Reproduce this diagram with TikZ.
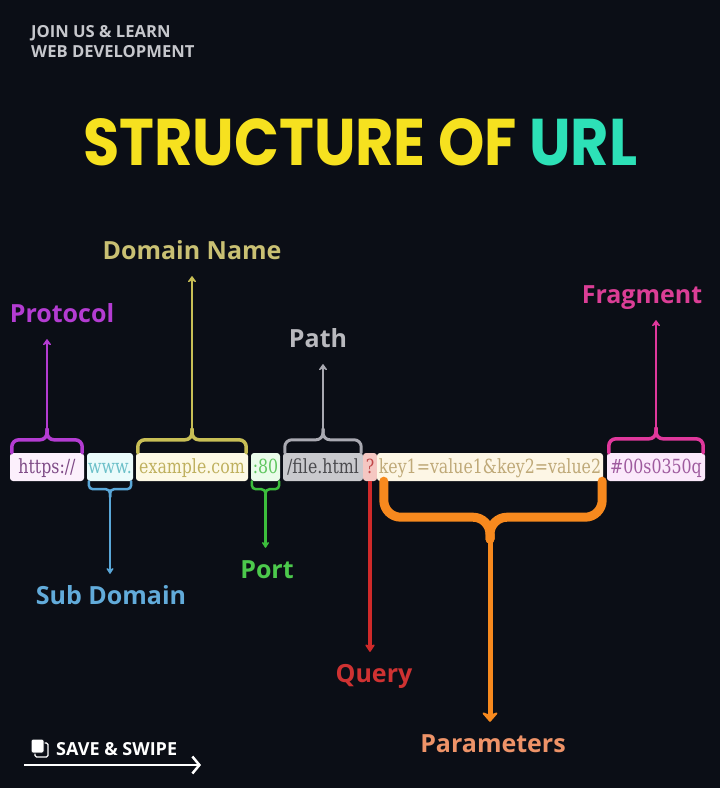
\documentclass[tikz,border=0pt]{standalone}
\usepackage{fontspec}
\setmainfont{DejaVu Serif}[FakeStretch=0.81]
\newfontfamily\labelfont{Open Sans}
\newfontfamily\titlefont{Poppins}
\usetikzlibrary{arrows.meta}

\definecolor{bgdark}{HTML}{0B0E16}
\definecolor{headgray}{HTML}{C6C7CC}
\definecolor{titleyellow}{HTML}{F6E11F}
\definecolor{titleteal}{HTML}{2DE1B7}
\definecolor{protoc}{HTML}{B43CD2}
\definecolor{domainc}{HTML}{C8BE55}
\definecolor{domainlbl}{HTML}{C9C073}
\definecolor{pathc}{HTML}{A9A9B1}
\definecolor{pathlbl}{HTML}{B9B9BE}
\definecolor{fragc}{HTML}{E0389C}
\definecolor{fraglbl}{HTML}{DB3E96}
\definecolor{subc}{HTML}{5AA7D8}
\definecolor{sublbl}{HTML}{62ABDA}
\definecolor{portc}{HTML}{3CBE3C}
\definecolor{portlbl}{HTML}{4CC94C}
\definecolor{queryc}{HTML}{D02A2A}
\definecolor{querylbl}{HTML}{CF3232}
\definecolor{paramc}{HTML}{F7891E}
\definecolor{paramlbl}{HTML}{EE9368}
% boxes of the url
\definecolor{protobox}{HTML}{FCF0FC}\definecolor{prototxt}{HTML}{7E4A86}
\definecolor{subbox}{HTML}{EAFBFB}\definecolor{subtxt}{HTML}{6CC0C9}
\definecolor{domainbox}{HTML}{FDF9E5}\definecolor{domaintxt}{HTML}{BFB05E}
\definecolor{portbox}{HTML}{EAFCEA}\definecolor{porttxt}{HTML}{5FC65F}
\definecolor{pathbox}{HTML}{C9C9CD}\definecolor{pathtxt}{HTML}{4A4A4E}
\definecolor{querybox}{HTML}{F5C7C2}\definecolor{querytxt}{HTML}{C04848}
\definecolor{parambox}{HTML}{FDF6E5}\definecolor{paramtxt}{HTML}{BFA978}
\definecolor{fragbox}{HTML}{FBE9FB}\definecolor{fragtxt}{HTML}{9E5A9E}

\tikzset{
  urlbox/.style={rounded corners=3pt, inner xsep=0pt, inner ysep=0pt,
    minimum height=28pt, text height=15pt, text depth=3pt,
    font=\fontsize{19.5}{19.5}\selectfont},
  lbl/.style={font=\labelfont\bfseries\fontsize{25}{25}\selectfont,
    inner sep=0pt, text height=18pt, text depth=6pt, anchor=base},
  bracetop/.style={line width=3.5pt, rounded corners=7pt, line cap=round},
  bracebot/.style={line width=2.5pt, rounded corners=4pt, line cap=round},
  braceparam/.style={line width=9pt, rounded corners=17pt, line cap=round},
  stemtop/.style={line width=2.8pt, shorten >=11pt,
    -{Stealth[length=7pt, width=10pt, round]}},
  stembot/.style={line width=2.5pt, shorten >=12pt,
    -{Stealth[length=7pt, width=9pt, round]}},
}

\begin{document}
\begin{tikzpicture}[x=1pt, y=-1pt]
  \useasboundingbox (0,0) rectangle (720,788);
  \fill[bgdark] (0,0) rectangle (720,788);

  % Marking header
  \node[anchor=base west, inner sep=0pt, text=headgray,
    font=\labelfont\bfseries\fontsize{16.6}{16.6}\selectfont] (head1) at (31,37) {JOIN US \& LEARN};
  \node[anchor=base west, inner sep=0pt, text=headgray,
    font=\labelfont\bfseries\fontsize{16.6}{16.6}\selectfont] (head2) at (31,57) {WEB DEVELOPMENT};

  % Marking title
  \node[anchor=base west, inner sep=0pt,
    font=\titlefont\bfseries\fontsize{66}{66}\selectfont] (title) at (83,165)
    {\scalebox{0.893}[1]{\textcolor{titleyellow}{STRUCTURE OF }\textcolor{titleteal}{URL}}};

  % Drawing boxes of the url
  \node[urlbox, fill=protobox, text=prototxt, minimum width=74pt] (uproto) at (47,467) {https://};
  \node[urlbox, fill=subbox, text=subtxt, minimum width=46pt] (usub) at (110,467) {www.};
  \node[urlbox, fill=domainbox, text=domaintxt, minimum width=112pt] (udomain) at (192,467) {example.com};
  \node[urlbox, fill=portbox, text=porttxt, minimum width=29pt] (uport) at (265.5,467) {:80};
  \node[urlbox, fill=pathbox, text=pathtxt, minimum width=80pt] (upath) at (323,467) {/file.html};
  \node[urlbox, fill=querybox, text=querytxt, minimum width=14pt] (uquery) at (370,467) {?};
  \node[urlbox, fill=parambox, text=paramtxt, minimum width=226pt] (uparam) at (490,467) {key1=value1\&key2=value2};
  \node[urlbox, fill=fragbox, text=fragtxt, minimum width=98pt] (ufrag) at (656,467) {\#00s0350q};

  % Marking labels
  \node[lbl, text=protoc] (lproto) at (62,322) {Protocol};
  \node[lbl, text=domainlbl] (ldomain) at (192,259) {Domain Name};
  \node[lbl, text=pathlbl] (lpath) at (318,347) {Path};
  \node[lbl, text=fraglbl] (lfrag) at (642,303) {Fragment};
  \node[lbl, text=sublbl] (lsub) at (111,604) {Sub Domain};
  \node[lbl, text=portlbl] (lport) at (267,578) {Port};
  \node[lbl, text=querylbl] (lquery) at (374,682) {Query};
  \node[lbl, text=paramlbl] (lparam) at (493,752) {Parameters};

  % Drawing brace Protocol
  \draw[bracetop, protoc] ([xshift=2pt]uproto.north west) |- ([yshift=13pt]uproto.north) -- ([yshift=24pt]uproto.north);
  \draw[bracetop, protoc] ([xshift=-2pt]uproto.north east) |- ([yshift=13pt]uproto.north) -- ([yshift=24pt]uproto.north);
  \draw[stemtop, protoc] ([yshift=20pt]uproto.north) -- (uproto.north |- lproto.south);

  % Drawing brace Domain Name
  \draw[bracetop, domainc] ([xshift=2pt]udomain.north west) |- ([yshift=13pt]udomain.north) -- ([yshift=24pt]udomain.north);
  \draw[bracetop, domainc] ([xshift=-2pt]udomain.north east) |- ([yshift=13pt]udomain.north) -- ([yshift=24pt]udomain.north);
  \draw[stemtop, domainc] ([yshift=20pt]udomain.north) -- (udomain.north |- ldomain.south);

  % Drawing brace Path
  \draw[bracetop, pathc, line width=3pt] ([xshift=2pt]upath.north west) |- ([yshift=13pt]upath.north) -- ([yshift=24pt]upath.north);
  \draw[bracetop, pathc, line width=3pt] ([xshift=-2pt]upath.north east) |- ([yshift=13pt]upath.north) -- ([yshift=24pt]upath.north);
  \draw[stemtop, pathc] ([yshift=20pt]upath.north) -- (upath.north |- lpath.south);

  % Drawing brace Fragment
  \draw[bracetop, fragc] ([xshift=2pt]ufrag.north west) |- ([yshift=14pt]ufrag.north) -- ([yshift=25pt]ufrag.north);
  \draw[bracetop, fragc] ([xshift=-2pt]ufrag.north east) |- ([yshift=14pt]ufrag.north) -- ([yshift=25pt]ufrag.north);
  \draw[stemtop, fragc] ([yshift=21pt]ufrag.north) -- (ufrag.north |- lfrag.south);

  % Drawing brace Sub Domain
  \draw[bracebot, subc] ([xshift=2pt]usub.south west) |- ([yshift=-8pt]usub.south) -- ([yshift=-16pt]usub.south);
  \draw[bracebot, subc] ([xshift=-2pt]usub.south east) |- ([yshift=-8pt]usub.south) -- ([yshift=-16pt]usub.south);
  \draw[stembot, subc] ([yshift=-13pt]usub.south) -- (usub.south |- lsub.north);

  % Drawing brace Port
  \draw[bracebot, portc] ([xshift=1pt]uport.south west) |- ([yshift=-8pt]uport.south) -- ([yshift=-16pt]uport.south);
  \draw[bracebot, portc] ([xshift=-1pt]uport.south east) |- ([yshift=-8pt]uport.south) -- ([yshift=-16pt]uport.south);
  \draw[stembot, portc] ([yshift=-13pt]uport.south) -- (uport.south |- lport.north);

  % Drawing arrow Query
  \draw[stembot, queryc, line width=3.5pt, -{Stealth[length=9pt, width=12pt, round]}] (uquery.south) -- (lquery.north -| uquery.south);

  % Drawing brace Parameters
  \draw[braceparam, paramc] ([xshift=7pt]uparam.south west) |- ([yshift=-36pt]uparam.south) -- ([yshift=-58pt]uparam.south);
  \draw[braceparam, paramc] ([xshift=-1pt]uparam.south east) |- ([yshift=-36pt]uparam.south) -- ([yshift=-58pt]uparam.south);
  \draw[stembot, paramc, line width=5pt, -{Stealth[length=11pt, width=19pt, round]}] ([yshift=-50pt]uparam.south) -- (uparam.south |- lparam.north);

  % Marking save and swipe
  \draw[white, line width=1.3pt, rounded corners=1.5pt] (35,743) rectangle (48,757);
  \filldraw[fill=white, draw=bgdark, line width=1pt, rounded corners=1.5pt] (31,739) rectangle (44,753);
  \node[anchor=base west, inner sep=0pt, text=white,
    font=\labelfont\bfseries\fontsize{18}{18}\selectfont] (save) at (56,755) {SAVE \& SWIPE};
  \coordinate (swipea) at (24,765);
  \coordinate (swipeb) at (201,765);
  \draw[white, line width=2.5pt, -{Straight Barb[length=7pt, width=17pt]}] (swipea) -- (swipeb);
\end{tikzpicture}
\end{document}
